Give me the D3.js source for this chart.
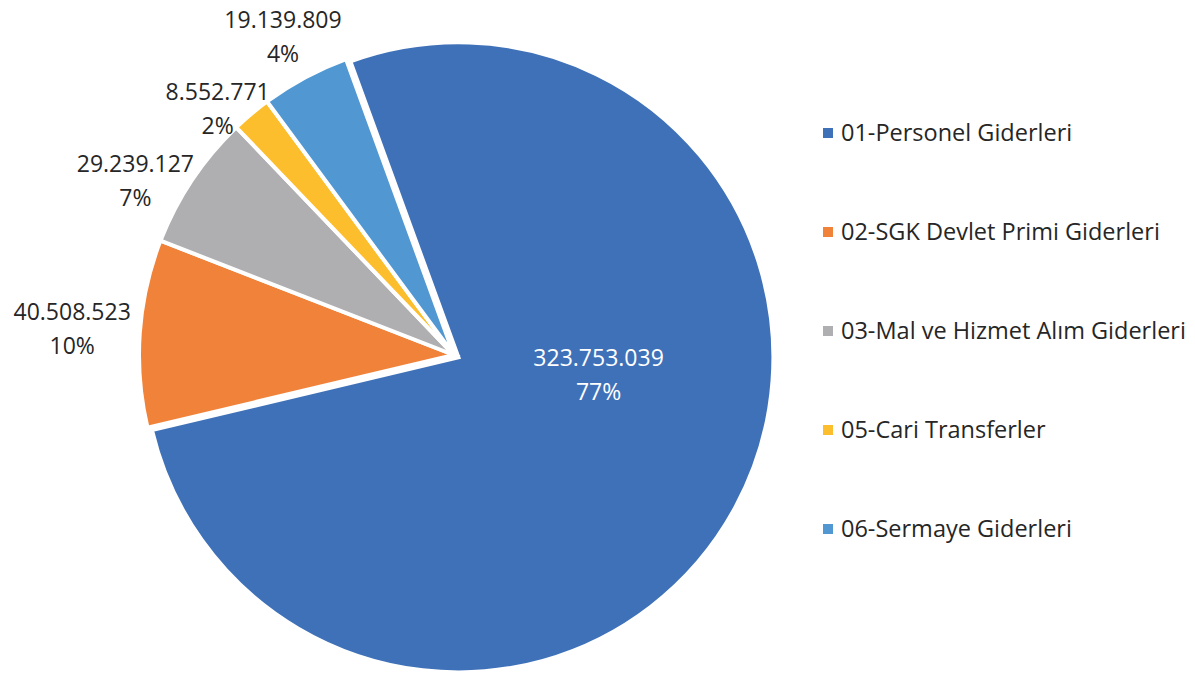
<!DOCTYPE html>
<html>
<head>
<meta charset="utf-8">
<script src="https://cdn.jsdelivr.net/npm/d3@7"></script>
<style>
   body { margin: 0; background: #ffffff; }
   text { font-family: "Open Sans", "Liberation Sans", sans-serif; }
</style>
</head>
<body>
<div id="chart"></div>
<script>
//--------------------------------------------------------------
// DATA
//--------------------------------------------------------------
var categories = [
   "01-Personel Giderleri",
   "02-SGK Devlet Primi Giderleri",
   "03-Mal ve Hizmet Alım Giderleri",
   "05-Cari Transferler",
   "06-Sermaye Giderleri"
];
var values = [323753039, 40508523, 29239127, 8552771, 19139809];
var percentLabels = ["77%", "10%", "7%", "2%", "4%"];
var colors = ["#3F71B8", "#F0823A", "#AFAFB1", "#FCBE2C", "#5198D3"];
//--------------------------------------------------------------

//--------------------------------------------------------------
// CHART SIZE PARAMETERS
//--------------------------------------------------------------
var width = 1195;
var height = 675;
var center = { x: 454, y: 355 };
var radius = 315;
var explode = 5;               // blue slice pulled out
var startAngle = -0.35;        // first slice angle (radians)
var labelFont = 23;
var legendFont = 23.5;
var labelGap = 9;
var labelPad = 6;
//--------------------------------------------------------------

// format 323753039 -> 323.753.039
function formatNumber(n) {
   return String(n).replace(/\B(?=(\d{3})+(?!\d))/g, ".");
};

var svg = d3.select("#chart").append("svg")
   .attr("width", width)
   .attr("height", height);

var pie = d3.pie()
   .sort(null)
   .value(d => d)
   .startAngle(startAngle)
   .endAngle(startAngle + 2 * Math.PI);

var arcs = pie(values);

var arc = d3.arc()
   .innerRadius(0)
   .outerRadius(radius);

// offset of a slice along its bisector
function sliceOffset(d, i) {
   var dist = i === 0 ? explode : 0;
   var mid = (d.startAngle + d.endAngle) / 2;
   return { x: Math.sin(mid) * dist, y: -Math.cos(mid) * dist };
};

var pieGroup = svg.append("g")
   .attr("transform", `translate(${center.x}, ${center.y})`);

// slices
pieGroup.selectAll("path")
   .data(arcs)
   .enter()
   .append("path")
   .attr("d", arc)
   .attr("fill", (d, i) => colors[i])
   .attr("stroke", "#ffffff")
   .attr("stroke-width", 4)
   .attr("stroke-linejoin", "miter")
   .attr("transform", (d, i) => {
      var o = sliceOffset(d, i);
      return `translate(${o.x}, ${o.y})`;
   });

//--------------------------------------------------------------
// DATA LABELS
//--------------------------------------------------------------
var lineGap = 34;
var outside = [];

arcs.forEach((d, i) => {
   var mid = (d.startAngle + d.endAngle) / 2;
   var g = pieGroup.append("g");
   var color = i === 0 ? "#ffffff" : "#262626";

   g.append("text")
      .attr("text-anchor", "middle")
      .attr("y", -lineGap / 2)
      .attr("dy", "0.35em")
      .attr("font-size", labelFont)
      .attr("fill", color)
      .text(formatNumber(values[i]));
   g.append("text")
      .attr("text-anchor", "middle")
      .attr("y", lineGap / 2)
      .attr("dy", "0.35em")
      .attr("font-size", labelFont)
      .attr("fill", color)
      .text(percentLabels[i]);

   if (i === 0) {
      // inside label on the big slice
      var a = 98 * Math.PI / 180;
      g.attr("transform", `translate(${Math.sin(a) * 146}, ${-Math.cos(a) * 146})`);
   } else {
      // outside label: ray from the rim, box edge touching it
      var box = g.node().getBBox();
      var dx = Math.sin(mid), dy = -Math.cos(mid);
      var t = Math.min(box.width / 2 / Math.abs(dx), box.height / 2 / Math.abs(dy));
      var r = radius + labelGap + t;
      outside.push({ g: g, x: dx * r, y: dy * r, h: box.height });
   }
});

// push overlapping outside labels down
outside.sort((a, b) => a.y - b.y);
outside.forEach((l, k) => {
   if (k > 0) {
      var prev = outside[k - 1];
      var minY = prev.y + prev.h / 2 + l.h / 2 + labelPad;
      if (l.y < minY) l.y = minY;
   }
   l.g.attr("transform", `translate(${l.x}, ${l.y})`);
});

//--------------------------------------------------------------
// LEGEND
//--------------------------------------------------------------
var legendX = 823;
var legendY = d3.scalePoint()
   .domain(categories)
   .range([133, 529]);

var legend = svg.append("g");

var items = legend.selectAll("g")
   .data(categories)
   .enter()
   .append("g")
   .attr("transform", d => `translate(${legendX}, ${legendY(d)})`);

items.append("rect")
   .attr("x", 0)
   .attr("y", -5)
   .attr("width", 10)
   .attr("height", 10)
   .attr("fill", (d, i) => colors[i]);

items.append("text")
   .attr("x", 18)
   .attr("dy", "0.35em")
   .attr("font-size", legendFont)
   .attr("fill", "#262626")
   .text(d => d);
</script>
</body>
</html>
